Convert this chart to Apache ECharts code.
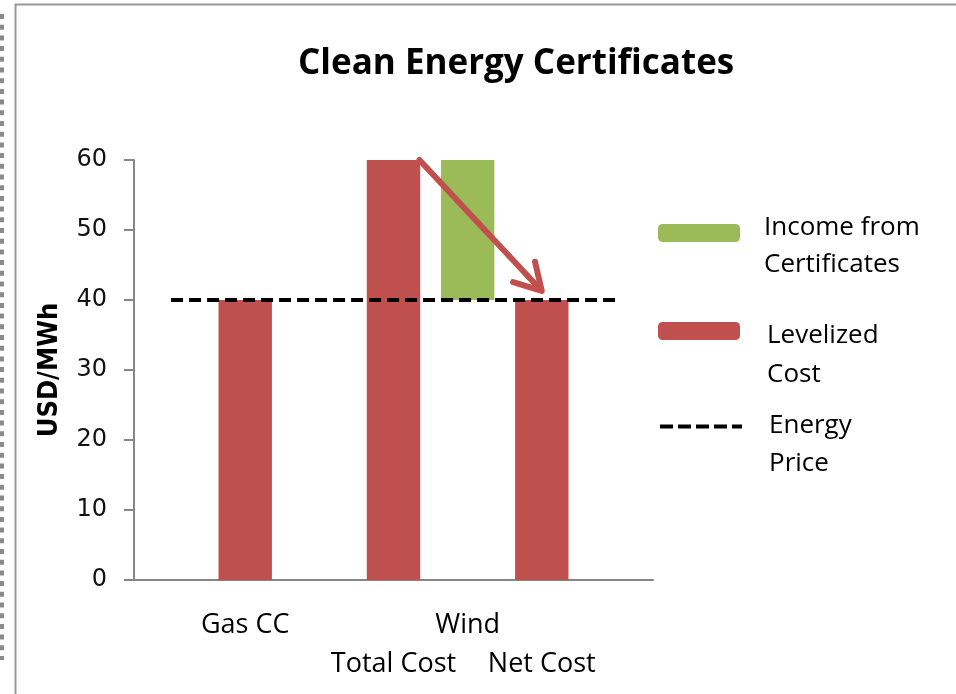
<!DOCTYPE html>
<html>
<head>
<meta charset="utf-8">
<title>Clean Energy Certificates</title>
<script src="https://cdn.jsdelivr.net/npm/echarts@6/dist/echarts.min.js"></script>
<style>
  html, body { margin: 0; padding: 0; background: #fff; }
  #chart { width: 956px; height: 694px; }
</style>
</head>
<body>
<div id="chart"></div>
<script>
// categories: empty slots keep the spacing of the original layout
const categories = ['', 'Gas CC', '', '\nTotal Cost', 'Wind', '\nNet Cost', ''];
const levelizedCost = [null, 40, null, 60, null, 40, null];
const incomeBase = [null, null, null, null, 40, null, null];
const incomeFromCerts = [null, null, null, null, 20, null, null];
const energyPrice = [40, 40, 40, 40, 40, 40, 40];
const yTicks = [0, 10, 20, 30, 40, 50, 60];
// arrow: from top of Total Cost bar down to top of Net Cost bar (x = category index, y = USD/MWh)
const arrowFrom = [3.35, 60];
const arrowTo = [5.0, 41.3];

const RED = '#C0504D';
const GREEN = '#9BBB59';
const AXIS = '#868686';
const TXT_FONT = '"Open Sans", "Noto Sans", sans-serif';

// legend text is pushed down a bit with an empty spacer line
function legendText(spacer, lh, pad) {
  return {
    fontFamily: TXT_FONT, fontSize: 26, color: '#000', lineHeight: lh,
    padding: [0, 0, 0, pad],
    rich: { s: { fontSize: 2, lineHeight: spacer } }
  };
}

const chart = echarts.init(document.getElementById('chart'));

chart.setOption({
  animation: false,
  backgroundColor: '#fff',
  title: {
    text: 'Clean Energy Certificates',
    left: 298,
    top: 47,
    padding: 0,
    textStyle: { fontFamily: TXT_FONT, fontWeight: 'bold', fontSize: 35, color: '#000' }
  },
  grid: { left: 134, right: 303, top: 160, bottom: 114 },
  legend: [
    {
      data: ['Income from\nCertificates'],
      orient: 'vertical', left: 658, top: 183, padding: 0,
      itemWidth: 82, itemHeight: 18, selectedMode: false,
      formatter: n => '{s| }\n' + n,
      textStyle: legendText(26, 37, 19)
    },
    {
      data: ['Levelized\nCost'],
      orient: 'vertical', left: 658, top: 268, padding: 0,
      itemWidth: 82, itemHeight: 18, selectedMode: false,
      formatter: n => '{s| }\n' + n,
      textStyle: legendText(48, 39, 22)
    },
    {
      data: ['Energy\nPrice'],
      orient: 'vertical', left: 658, top: 370, padding: 0,
      itemWidth: 82, itemHeight: 18, selectedMode: false,
      itemStyle: { opacity: 0 },
      lineStyle: { color: '#000', width: 4, type: [13, 5] },
      formatter: n => '{s| }\n' + n,
      textStyle: legendText(37, 38, 22)
    }
  ],
  xAxis: [
    {
      type: 'category',
      data: categories,
      axisLine: { lineStyle: { color: AXIS, width: 2 } },
      axisTick: { show: false },
      axisLabel: {
        interval: 0, margin: 26,
        fontFamily: TXT_FONT, fontSize: 27, color: '#000', lineHeight: 39
      }
    },
    { type: 'value', min: -0.5, max: 6.5, show: false }
  ],
  yAxis: {
    type: 'value',
    min: 0, max: 60, interval: 10,
    name: 'USD/MWh',
    nameLocation: 'middle',
    nameRotate: 90,
    nameGap: 71,
    nameTextStyle: { fontFamily: '"DejaVu Sans Condensed", "DejaVu Sans"', fontWeight: 'bold', fontSize: 27, color: '#000' },
    axisLine: { show: true, onZero: false, lineStyle: { color: AXIS, width: 2 } },
    axisTick: { show: true, length: 10, lineStyle: { color: AXIS, width: 2 } },
    splitLine: { show: false },
    axisLabel: {
      margin: 27,
      fontFamily: 'DejaVu Sans', fontSize: 24, color: '#111',
      formatter: v => (yTicks.indexOf(v) >= 0 ? String(v) : '')
    }
  },
  series: [
    {
      name: 'Levelized\nCost', type: 'bar', data: levelizedCost,
      barWidth: '72%', barGap: '-100%',
      itemStyle: { color: RED }
    },
    {
      name: 'base', type: 'bar', stack: 'wind', data: incomeBase,
      barWidth: '72%', barGap: '-100%',
      itemStyle: { color: 'transparent' }, silent: true
    },
    {
      name: 'Income from\nCertificates', type: 'bar', stack: 'wind', data: incomeFromCerts,
      barWidth: '72%', barGap: '-100%',
      itemStyle: { color: GREEN }
    },
    {
      name: 'Energy\nPrice', type: 'line', data: energyPrice,
      symbol: 'none', z: 5,
      itemStyle: { color: '#000' },
      lineStyle: { color: '#000', width: 4, type: [12, 6] }
    },
    {
      name: 'arrow', type: 'custom',
      xAxisIndex: 1, yAxisIndex: 0, z: 6,
      data: [[arrowFrom[0], arrowFrom[1], arrowTo[0], arrowTo[1]]],
      renderItem: function (params, api) {
        const p1 = api.coord([api.value(0), api.value(1)]);
        const p2 = api.coord([api.value(2), api.value(3)]);
        const ang = Math.atan2(p2[1] - p1[1], p2[0] - p1[0]);
        const len = 30, spread = Math.PI / 6;
        const a1 = [p2[0] - len * Math.cos(ang - spread), p2[1] - len * Math.sin(ang - spread)];
        const a2 = [p2[0] - len * Math.cos(ang + spread), p2[1] - len * Math.sin(ang + spread)];
        const st = { stroke: RED, lineWidth: 6, lineCap: 'round', lineJoin: 'round', fill: null };
        return {
          type: 'group',
          children: [
            { type: 'line', shape: { x1: p1[0], y1: p1[1], x2: p2[0] - 2 * Math.cos(ang), y2: p2[1] - 2 * Math.sin(ang) }, style: st },
            { type: 'polyline', shape: { points: [a1, p2, a2] }, style: st }
          ]
        };
      }
    }
  ],
  graphic: [
    // frame of the original screenshot
    { type: 'line', shape: { x1: 15.5, y1: 4, x2: 15.5, y2: 694 }, style: { stroke: '#9a9a9a', lineWidth: 2 } },
    { type: 'line', shape: { x1: 15, y1: 4.5, x2: 956, y2: 4.5 }, style: { stroke: '#9a9a9a', lineWidth: 2 } },
    { type: 'line', shape: { x1: 2, y1: 14, x2: 2, y2: 660 }, style: { stroke: '#8a8a8a', lineWidth: 4, lineDash: [5, 5.7] } }
  ]
});
</script>
</body>
</html>
